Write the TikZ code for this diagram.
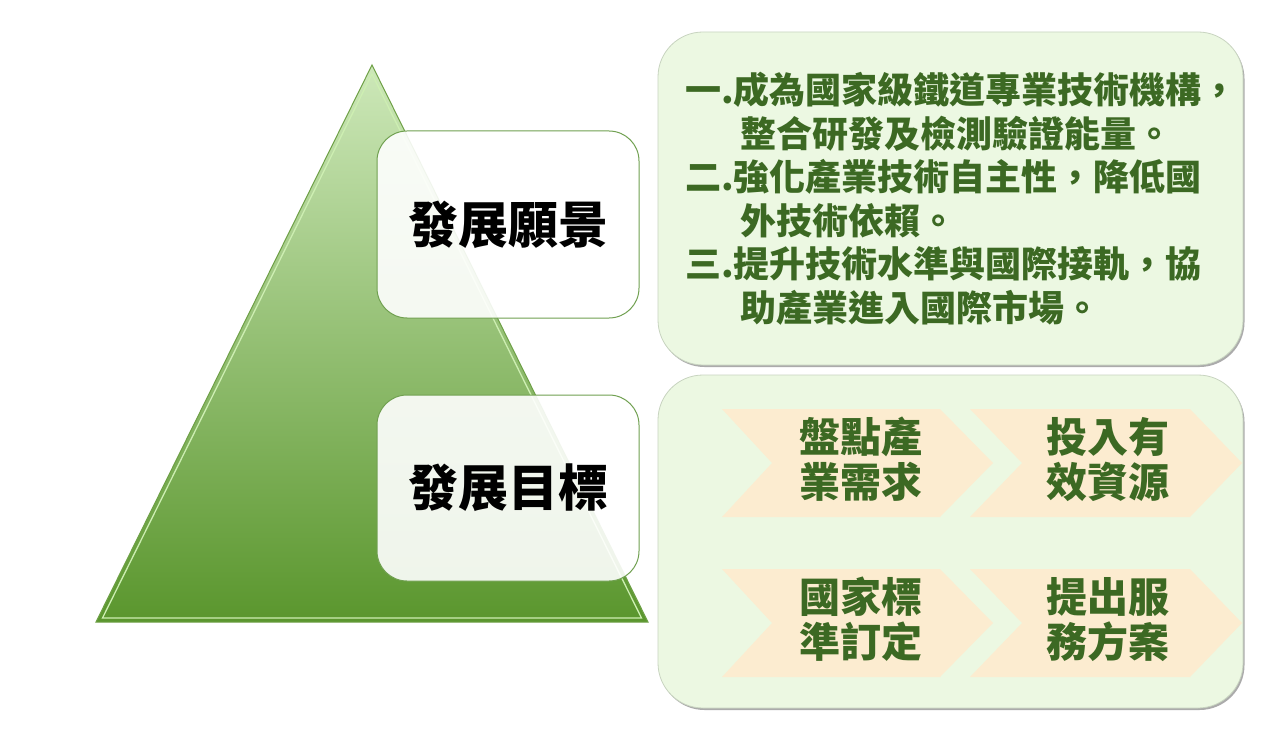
\documentclass[tikz,border=0pt]{standalone}
\usepackage{fontspec}
\usetikzlibrary{shadows}
\newfontfamily\cjk{Noto Sans CJK TC}
\definecolor{txtgreen}{RGB}{60,105,35}
\definecolor{tritop}{RGB}{205,232,185}
\definecolor{trimid}{RGB}{140,190,100}
\definecolor{tribot}{RGB}{90,150,45}
\definecolor{triedge}{RGB}{110,160,70}
\definecolor{trihi}{RGB}{205,238,178}
\definecolor{lboxedge}{RGB}{112,160,80}
\definecolor{rboxfill}{RGB}{236,248,226}
\definecolor{rboxedge}{RGB}{200,212,192}
\definecolor{chevfill}{RGB}{252,236,208}
\tikzset{
  lbox/.style={draw=lboxedge, line width=1pt, fill=white, fill opacity=0.9, text opacity=1,
    rounded corners=30pt, inner sep=0pt, minimum width=262pt,
    font=\cjk\bfseries\fontsize{50}{60}\selectfont, text=black},
  rbox/.style={draw=rboxedge, line width=0.8pt, fill=rboxfill, rounded corners=45pt,
    inner sep=0pt, minimum width=585pt, minimum height=333pt,
    drop shadow={shadow xshift=1.5pt, shadow yshift=-2pt, opacity=0.55, fill=black!60}},
  tline/.style={anchor=west, inner sep=0pt, text=txtgreen,
    font=\cjk\bfseries\fontsize{36}{43}\selectfont},
  ctext/.style={inner sep=0pt, align=center, text=txtgreen,
    font=\cjk\bfseries\fontsize{41}{45}\selectfont},
  chev/.style={fill=chevfill, draw=none}
}
\begin{document}
\begin{tikzpicture}[x=1pt,y=-1pt]
\useasboundingbox (0,0) rectangle (1280,754);
\fill[white] (0,0) rectangle (1280,754);

% pyramid
\shade[top color=tritop, middle color=trimid, bottom color=tribot]
  (372,65) -- (648,622) -- (96,622) -- cycle;
\draw[triedge, line width=1pt] (372,65) -- (648,622) -- (96,622) -- cycle;
\draw[trihi, line width=1.3pt] (372,74) -- (641.5,618) -- (102.5,618) -- cycle;

% right boxes
\node[rbox] (visionbox) at (950.5,198.5) {};
\node[rbox] (goalbox) at (950.5,541.5) {};

% left label boxes
\node[lbox, minimum height=187pt] (vision) at (508,224.5) {發展願景};
\node[lbox, minimum height=186pt] (goal) at (508,488) {發展目標};

% vision text
\node[tline] (t1) at (685,90) {一.成為國家級鐵道專業技術機構，};
\node[tline] (t2) at (740,133.5) {整合研發及檢測驗證能量。};
\node[tline] (t3) at (685,177) {二.強化產業技術自主性，降低國};
\node[tline] (t4) at (740,220.5) {外技術依賴。};
\node[tline] (t5) at (685,264) {三.提升技術水準與國際接軌，協};
\node[tline] (t6) at (740,307.5) {助產業進入國際市場。};

% chevrons
\path[chev] (722,409) -- (940,409) -- (993,463) -- (940,517) -- (722,517) -- (772,463) -- cycle;
\path[chev] (970,409) -- (1190,409) -- (1242,463) -- (1190,517) -- (970,517) -- (1022,463) -- cycle;
\path[chev] (722,569) -- (940,569) -- (993,623) -- (940,677) -- (722,677) -- (772,623) -- cycle;
\path[chev] (970,569) -- (1190,569) -- (1242,623) -- (1190,677) -- (970,677) -- (1022,623) -- cycle;

\node[ctext] (c1) at (861,459.5) {盤點產\\業需求};
\node[ctext] (c2) at (1108,459.5) {投入有\\效資源};
\node[ctext] (c3) at (861,619.5) {國家標\\準訂定};
\node[ctext] (c4) at (1108,619.5) {提出服\\務方案};
\end{tikzpicture}
\end{document}
